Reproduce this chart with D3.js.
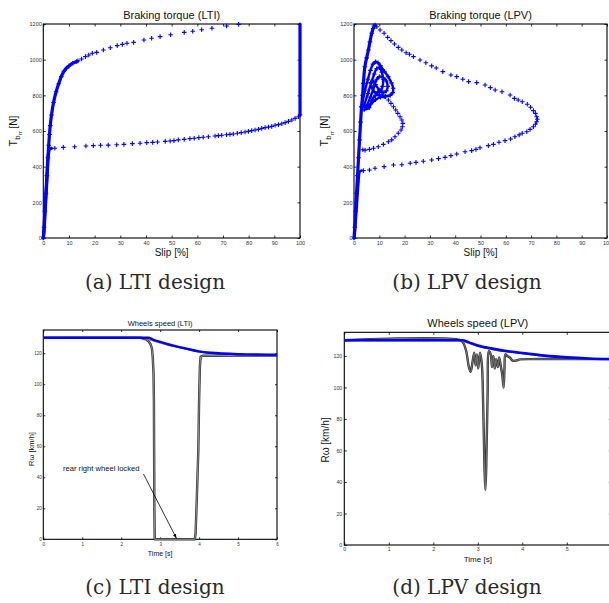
<!DOCTYPE html>
<html><head><meta charset="utf-8">
<script src="https://cdn.jsdelivr.net/npm/d3@7"></script>
<style>body{margin:0;background:#fff}</style>
</head><body><svg id="c" width="609" height="603"></svg>
<script>
// ---------- ticks ----------
const slipTicks = [0,10,20,30,40,50,60,70,80,90,100];
const torqueTicks = [0,200,400,600,800,1000,1200];
const timeTicks = [0,1,2,3,4,5,6];
const speedTicks = [0,20,40,60,80,100,120];

// ---------- (a) LTI braking torque : [slip %, torque] ----------
const ltiDenseRise = [[0,0],[0.3,60],[0.6,150],[1,250],[1.4,350],[1.8,450],[2.1,520],[2.4,580],[2.7,630],[3.2,690],[4,760],[5,820],[6,865],[7,905],[8,935],[9,952],[10,965],[11.5,980],[13,990]];
const ltiDenseLocked = [[100,1200],[100,1100],[100,1000],[100,900],[100,800],[100,700],[100,690]];
const ltiDenseReturn = [[3.2,503],[2.5,500],[2.0,470],[1.5,350],[1.0,220],[0.6,120],[0.3,40],[0,0]];
const ltiUpper = [[13.5,993],[14.9,1004],[16.4,1017],[17.7,1026],[19.1,1036],[20.8,1041],[23.4,1054],[26.1,1067],[28.8,1079],[30.8,1086],[32.6,1092],[35.2,1097],[39.2,1110],[42.2,1120],[45.5,1129],[49.6,1140],[54.9,1153],[58.2,1159],[61.7,1168],[65.7,1176],[71.4,1189],[76.1,1198]];
const ltiLower = [[100,690],[99.4,680],[98.1,671],[96.8,662],[95.5,654],[94.2,647],[92.9,641],[91.6,636],[90.3,632],[89.0,626],[87.7,622],[86.4,619],[85.1,615],[83.8,609],[82.5,606],[81.2,602],[79.9,598],[78.6,594],[77.1,591],[75.6,587],[74.0,583],[72.7,581],[71.4,579],[69.5,576],[68.2,574],[66.9,572],[64.3,568],[62.3,565],[60.6,563],[58.8,559],[57.1,557],[54.9,553],[52.6,550],[50.9,546],[49.4,544],[47.5,542],[44.5,538],[42.6,536],[40.3,535],[37.7,531],[34.7,529],[31.4,525],[28.6,523],[25.3,521],[22.3,520],[19.5,518],[16.6,516],[12.2,512],[7.8,508],[4.5,503]];

// ---------- (b) LPV braking torque ----------
const lpvDenseLeft = [[0,0],[0.3,60],[0.6,150],[1,250],[1.4,350],[1.8,450],[2.2,550],[2.6,650],[3,736],[3.4,800],[3.7,867],[4.3,960],[5,1010],[5.7,1054],[6.3,1100],[7,1148],[7.6,1175],[8.3,1194]];
const lpvDenseLeft2 = [[0.2,0],[0.7,100],[1.2,200],[1.7,300],[2.3,372],[3.0,378]];
const lpvTangle1 = [[3,736],[4.4,830],[5.5,890],[6.5,940],[7.5,975],[8.5,988],[9.5,982],[10.5,965],[12,935],[13.5,905],[14.8,870],[15.5,840],[15.3,815],[14.3,800],[12.5,795],[10.5,790],[8.5,775],[6.5,750],[4.5,735],[3,736]];
const lpvTangle2 = [[4,745],[5.5,810],[6.8,870],[8,920],[9,950],[10,955],[11,930],[11.5,890],[11.3,850],[10.5,825],[9.3,815],[8,820],[7,845],[6.5,870]];
const lpvTangle3 = [[5,740],[6.5,790],[8,850],[9,890],[10,905],[11.5,900],[12.8,880],[13.3,850],[12.8,825],[11.5,815],[10,830],[8.5,860],[7.5,880]];
const lpvTangle4 = [[4,720],[6,730],[7,770],[8.5,800],[10,800],[11.5,795],[12.3,793]];
const lpvOuterTop = [[7.9,1189],[9.0,1185],[10.3,1166],[11.9,1148],[13.3,1125],[14.6,1107],[16.0,1088],[17.5,1069],[18.9,1054],[20.6,1039],[21.9,1030],[23.5,1017],[26.1,998],[28.4,983],[30.7,965],[32.5,953],[35.1,933],[38.3,914],[40.6,905],[43.0,890],[45.3,877],[48.5,871],[51.8,858],[53.9,843],[55.8,830],[58.5,820],[61.7,802],[63.4,783],[64.9,774],[66.5,764],[68.5,750],[69.8,733],[70.9,714],[71.7,699],[72.2,680],[72.5,666],[72.2,652],[71.7,638],[70.9,624],[69.6,609],[68.3,596],[66.5,587],[65.3,578],[63.6,568],[61.9,555],[59.7,546],[57.3,537],[55.1,525],[53.1,518],[49.8,506],[48.2,497],[46.5,490],[43.9,484]];
const lpvOuterLow = [[40.6,471],[38.3,462],[36.0,452],[33.4,445],[30.7,437],[27.4,430],[24.5,424],[22.2,419],[18.9,411],[15.6,409],[11.9,400],[8.3,391],[6.1,381],[3.7,378]];
const lpvInner = [[11.0,802],[12.3,793],[13.6,774],[14.6,755],[15.6,736],[16.5,718],[17.3,699],[18.2,680],[18.9,662],[19.3,643],[19.1,624],[18.6,606],[17.5,587],[16.2,568],[14.9,550],[13.6,540],[11.6,525],[9.6,512],[7.7,503],[6.1,497],[4.4,493],[3.5,495]];

// ---------- (c) LTI wheel speeds : [time s, km/h] ----------
const ltiBlue = [[0,130],[2.6,130],[2.7,130],[2.8,129],[3.0,127.3],[3.2,125.8],[3.5,124],[3.8,122.3],[4.0,121.2],[4.3,120.3],[4.6,119.8],[5.0,119.4],[5.5,119.2],[6.0,119]];
const ltiYellow = [[2.6,130],[2.8,128.3],[3.0,126.6],[3.2,125.3],[3.4,124.4]];
const ltiOther = [[0,129.7],[2.6,129.7],[2.75,128.6],[3.0,126.9],[3.5,123.6],[4.0,120.9],[4.5,119.6],[5.0,119.2],[6.0,118.8]];
const ltiLocked = [[0,130],[2.5,130],[2.63,129],[2.7,127.8],[2.75,126],[2.79,123],[2.81,117.7],[2.83,107],[2.84,89.9],[2.845,57.6],[2.85,25],[2.86,0],[3.89,0],[3.91,3.9],[3.94,25.4],[3.98,57.6],[4.0,89.9],[4.02,111.4],[4.04,117.8],[4.1,118.4],[5.0,118.6],[6.0,118.5]];

// ---------- (d) LPV wheel speeds ----------
const lpvBlue = [[0,130],[2.65,130],[2.8,128.6],[3.0,126.7],[3.3,124.8],[3.6,123.3],[4.0,121.9],[4.5,120.2],[5.0,119.1],[5.5,118.4],[6.0,118]];
const lpvYellow = [[2.62,130],[2.8,128],[3.0,126.2],[3.3,124.2],[3.5,123.2]];
const lpvOther = [[0,129.7],[2.65,129.7],[3.0,126.3],[3.5,123.3],[4.0,121.5],[4.5,119.9],[5.0,118.9],[6.0,117.8]];
const lpvRearRight = [[0,130],[2.6,130],[2.68,128],[2.74,123],[2.8,113],[2.84,110],[2.88,116],[2.92,122],[2.95,114],[2.98,121],[3.01,112],[3.05,122],[3.09,115],[3.12,90],[3.15,50],[3.17,35],[3.19,50],[3.22,95],[3.25,123],[3.29,121],[3.32,113],[3.35,120],[3.38,112],[3.41,118],[3.45,113],[3.48,119],[3.52,113],[3.55,108],[3.58,100],[3.6,112],[3.62,121],[3.66,120],[3.72,119],[3.78,117],[3.85,117],[3.95,117.8],[4.2,118],[4.8,118],[6.0,118]];

// ---------- drawing ----------
const svg = d3.select("#c");
svg.append("rect").attr("width",609).attr("height",603).attr("fill","#fff");
const SANS = "Liberation Sans, Arial, Helvetica, sans-serif";
const BLUE = "#0000ff";

function panel(o){
  const g = svg.append("g");
  const x = d3.scaleLinear().domain(o.xd).range([o.x0,o.x1]);
  const y = d3.scaleLinear().domain(o.yd).range([o.y1,o.y0]);
  const styleAxis = sel => {
    sel.select(".domain").remove();
    sel.selectAll("line").attr("stroke","#000").attr("stroke-width",0.8);
    sel.selectAll("text").attr("font-family",SANS).attr("font-size",o.tickFs).attr("fill","#333");
  };
  g.append("g").attr("transform",`translate(0,${o.y1})`)
    .call(d3.axisBottom(x).tickValues(o.xt).tickSizeInner(-o.tl).tickSizeOuter(0).tickPadding(o.xpad).tickFormat(d3.format("d")))
    .call(styleAxis);
  g.append("g").attr("transform",`translate(${o.x0},0)`)
    .call(d3.axisLeft(y).tickValues(o.yt).tickSizeInner(-o.tl).tickSizeOuter(0).tickPadding(o.ypad).tickFormat(d3.format("d")))
    .call(styleAxis);
  g.append("g").attr("transform",`translate(0,${o.y0})`)
    .call(d3.axisTop(x).tickValues(o.xt).tickSizeInner(-o.tl).tickSizeOuter(0).tickFormat(""))
    .call(styleAxis);
  g.append("g").attr("transform",`translate(${o.x1},0)`)
    .call(d3.axisRight(y).tickValues(o.yt).tickSizeInner(-o.tl).tickSizeOuter(0).tickFormat(""))
    .call(styleAxis);
  g.append("rect").attr("x",o.x0).attr("y",o.y0).attr("width",o.x1-o.x0).attr("height",o.y1-o.y0)
    .attr("fill","none").attr("stroke","#000").attr("stroke-width",1.1);
  g.append("text").attr("x",(o.x0+o.x1)/2).attr("y",o.titleY).attr("text-anchor","middle")
    .attr("font-family",SANS).attr("font-size",o.titleFs).attr("fill","#111").text(o.title);
  g.append("text").attr("x",o.xlabX ?? (o.x0+o.x1)/2).attr("y",o.xlabY).attr("text-anchor","middle")
    .attr("font-family",SANS).attr("font-size",o.xlabFs).attr("fill","#111").text(o.xlab);
  const plot = g.append("g");
  return {g:plot,x,y};
}

function denseLine(p, data, w){
  p.g.append("path").datum(data).attr("fill","none").attr("stroke",BLUE).attr("stroke-width",w)
    .attr("stroke-linejoin","round").attr("stroke-linecap","round")
    .attr("d",d3.line().x(d=>p.x(d[0])).y(d=>p.y(d[1])).curve(d3.curveCatmullRom));
}
function plusMarks(p, data){
  p.g.selectAll(null).data(data).enter().append("path")
    .attr("transform",d=>`translate(${p.x(d[0])},${p.y(d[1])})`)
    .attr("d","M-2.3,0H2.3M0,-2.3V2.3").attr("stroke",BLUE).attr("stroke-width",1.1).attr("fill","none");
}
function torqueYLabel(xb, yc){
  const t = svg.append("text").attr("transform",`translate(${xb},${yc}) rotate(-90)`)
    .attr("text-anchor","middle").attr("font-family",SANS).attr("fill","#111");
  t.append("tspan").attr("font-size",11).text("T");
  t.append("tspan").attr("font-size",8).attr("dy",3).text("b");
  t.append("tspan").attr("font-size",6).attr("dy",2.5).text("rr");
  t.append("tspan").attr("font-size",10).attr("dy",-5.5).text(" [N]");
}
function speedYLabel(xb, yc, fs){
  svg.append("text").attr("transform",`translate(${xb},${yc}) rotate(-90)`)
    .attr("text-anchor","middle").attr("font-family",SANS).attr("font-size",fs).attr("fill","#111")
    .text("R\u03c9 [km/h]");
}
function speedLine(p, data, color, w, curve){
  p.g.append("path").datum(data).attr("fill","none").attr("stroke",color).attr("stroke-width",w)
    .attr("stroke-linejoin","round")
    .attr("d",d3.line().x(d=>p.x(d[0])).y(d=>p.y(d[1])).curve(curve || d3.curveMonotoneX));
}

// (a)
const pa = panel({xd:[0,100],yd:[0,1200],x0:43.3,x1:300,y0:24,y1:238,xt:slipTicks,yt:torqueTicks,
  tl:2.5,tickFs:5.5,xpad:3.5,ypad:1.5,title:"Braking torque (LTI)",titleY:19,titleFs:11,
  xlab:"Slip [%]",xlabY:255.5,xlabFs:10});
denseLine(pa, ltiDenseRise, 3.2);
denseLine(pa, ltiDenseReturn, 3.2);
denseLine(pa, ltiDenseLocked, 3.2);
plusMarks(pa, ltiDenseRise);
plusMarks(pa, ltiUpper);
plusMarks(pa, ltiLower);
torqueYLabel(16.5, 131);

// (b)
const pb = panel({xd:[0,100],yd:[0,1200],x0:354,x1:607,y0:24,y1:238,xt:slipTicks,yt:torqueTicks,
  tl:2.5,tickFs:5.5,xpad:3.5,ypad:1.5,title:"Braking torque (LPV)",titleY:19,titleFs:11,
  xlab:"Slip [%]",xlabY:255.5,xlabFs:10});
denseLine(pb, lpvDenseLeft, 3.2);
denseLine(pb, lpvDenseLeft2, 2.6);
[lpvTangle1,lpvTangle2,lpvTangle3,lpvTangle4].forEach(t=>{denseLine(pb,t,2.4); plusMarks(pb,t);});
plusMarks(pb, lpvDenseLeft);
plusMarks(pb, lpvOuterTop);
plusMarks(pb, lpvOuterLow);
plusMarks(pb, lpvInner);
torqueYLabel(328, 131);

// (c)
const pc = panel({xd:[0,6],yd:[0,135],x0:43.3,x1:277,y0:330,y1:539.3,xt:timeTicks,yt:speedTicks,
  tl:2,tickFs:4.5,xpad:3.5,ypad:1.5,title:"Wheels speed (LTI)",titleY:325.5,titleFs:7.5,
  xlab:"Time [s]",xlabY:555.5,xlabFs:7});
speedLine(pc, ltiLocked, "#333", 2.4, d3.curveLinear);
speedLine(pc, ltiLocked, "#9a9a9a", 0.9, d3.curveLinear);
speedLine(pc, ltiOther, "#333", 1.4);
speedLine(pc, ltiYellow, "#c8a818", 1.6);
speedLine(pc, ltiBlue, BLUE, 2.4);
speedYLabel(33.5, 449, 7.5);
pc.g.append("text").attr("x",63).attr("y",470.5).attr("font-family",SANS).attr("font-size",7.6)
  .attr("fill","#111").text("rear right wheel locked");
svg.append("defs").append("marker").attr("id","ah").attr("viewBox","0 0 10 10").attr("refX",10).attr("refY",5)
  .attr("markerWidth",6).attr("markerHeight",6).attr("orient","auto")
  .append("path").attr("d","M0,1.5L10,5L0,8.5Z").attr("fill","#000");
pc.g.append("line").attr("x1",143.5).attr("y1",474).attr("x2",pc.x(3.42)).attr("y2",pc.y(0)-0.8)
  .attr("stroke","#000").attr("stroke-width",0.8).attr("marker-end","url(#ah)");

// (d)
const pd = panel({xd:[0,6],yd:[0,135],x0:344.3,x1:611.3,y0:332.3,y1:545,xt:timeTicks,yt:speedTicks,
  tl:2.5,tickFs:5.3,xpad:2.5,ypad:2,title:"Wheels speed (LPV)",titleY:326.5,titleFs:11,
  xlab:"Time [s]",xlabY:562,xlabFs:8});
speedLine(pd, lpvOther, "#333", 1.4);
speedLine(pd, lpvRearRight, "#333", 2.4, d3.curveCatmullRom);
speedLine(pd, lpvRearRight, "#8a8a8a", 0.8, d3.curveCatmullRom);
speedLine(pd, lpvYellow, "#c8a818", 1.6);
speedLine(pd, lpvBlue, BLUE, 2.6);
speedYLabel(328.5, 440, 10);

// captions
const SERIF = "DejaVu Serif, Liberation Serif, serif";
[["(a) LTI design",155,289],["(b) LPV design",467,289],["(c) LTI design",155,594],["(d) LPV design",467,594]]
  .forEach(c=>svg.append("text").attr("x",c[1]).attr("y",c[2]).attr("text-anchor","middle")
    .attr("font-family",SERIF).attr("font-size",20).attr("fill","#2a2a2a").text(c[0]));
</script></body></html>
